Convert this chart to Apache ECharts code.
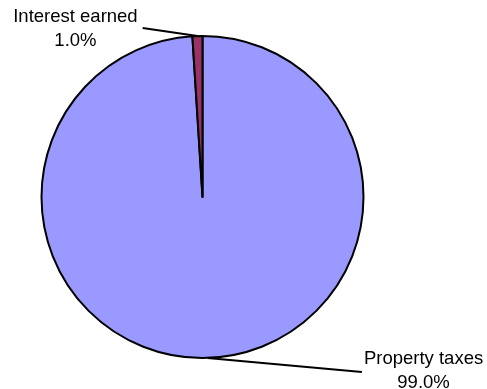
<!DOCTYPE html>
<html><head><meta charset="utf-8">
<script src="https://cdn.jsdelivr.net/npm/echarts@6/dist/echarts.min.js"></script>
<style>html,body{margin:0;padding:0;background:#fff}#c{width:487px;height:389px}</style>
</head><body><div id="c"></div>
<script>
const categories = ['Property taxes', 'Interest earned'];
const values = [99.0, 1.0];
const colors = ['#9999FF', '#993366'];

const chart = echarts.init(document.getElementById('c'));
chart.setOption({
  animation: false,
  backgroundColor: '#fff',
  series: [{
    type: 'pie',
    center: [202.5, 197],
    radius: 161,
    startAngle: 90,
    clockwise: true,
    data: categories.map((c, i) => ({ name: c, value: values[i], itemStyle: { color: colors[i] } })),
    itemStyle: { borderColor: '#000', borderWidth: 2 },
    label: {
      show: true,
      position: 'outside',
      color: '#000',
      fontFamily: 'Liberation Sans, Arial, sans-serif',
      fontSize: 18.5,
      lineHeight: 24,
      align: 'center',
      formatter: p => p.name + '\n' + p.percent.toFixed(1) + '%'
    },
    labelLine: { show: true, length: 10, length2: 10, lineStyle: { color: '#000', width: 2 } },
    labelLayout: function (params) {
      const pts = params.labelLinePoints;
      if (!pts) return {};
      const s = pts[0];
      const w = params.labelRect.width;
      if (params.dataIndex === 1) {
        const cx = s[0] - 122, cy = s[1] - 7;
        const end = [cx + w / 2 + 5, cy - 1];
        return { x: cx, y: cy, align: 'center', verticalAlign: 'middle', labelLinePoints: [s, end, end] };
      } else {
        const cx = s[0] + 216, cy = s[1] + 13;
        const end = [cx - w / 2 - 2, cy + 1];
        return { x: cx, y: cy, align: 'center', verticalAlign: 'middle', labelLinePoints: [s, end, end] };
      }
    }
  }]
});
</script>
</body></html>
